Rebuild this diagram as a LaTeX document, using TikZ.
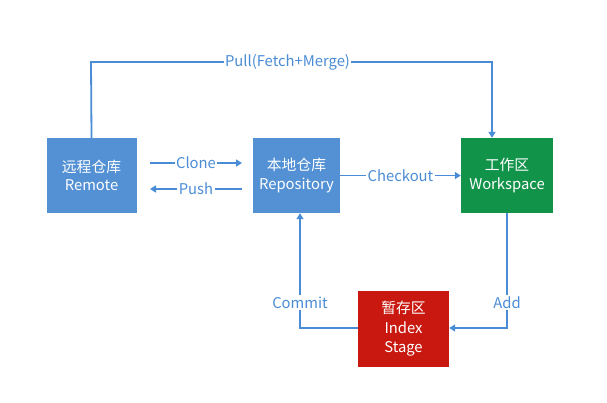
\documentclass[tikz,border=0pt]{standalone}
\usepackage{fontspec}
\setmainfont{Noto Sans CJK SC}
\usetikzlibrary{arrows.meta}
\definecolor{boxblue}{HTML}{5391D4}
\definecolor{boxgreen}{HTML}{11934A}
\definecolor{boxred}{HTML}{C8180F}
\definecolor{lineblue}{HTML}{4A8CD6}
\begin{document}
\begin{tikzpicture}[x=1bp,y=-1bp,
  box/.style={rectangle,minimum height=75bp,text=white,inner sep=0pt,align=center,
    font=\fontsize{14.8bp}{18bp}\selectfont},
  conn/.style={draw=lineblue,line width=1.8bp,-{Triangle[length=6bp,width=7bp]}},
  lbl/.style={fill=white,text=lineblue,inner sep=1.5bp,font=\fontsize{14.8bp}{16bp}\selectfont}]
\useasboundingbox (0,0) rectangle (607,402);
\fill[white] (0,0) rectangle (607,402);
\node[box,fill=boxblue,minimum width=90bp] (remote) at (91.5,175.5) {远程仓库\\Remote};
\node[box,fill=boxblue,minimum width=87bp] (repo) at (296.5,175.5) {本地仓库\\Repository};
\node[box,fill=boxgreen,minimum width=92bp] (work) at (507,175.5) {工作区\\Workspace};
\node[box,fill=boxred,minimum width=91bp,minimum height=76bp,font=\fontsize{14.8bp}{19.5bp}\selectfont] (index) at (403.5,329) {暂存区\\Index\\Stage};
\coordinate (pl) at (91,62);
\coordinate (pr) at (492,62);
\draw[conn] (remote.north) -- (pl) -- node[lbl,pos=0.49]{Pull(Fetch+Merge)} (pr) -- (pr |- work.north);
\draw[conn] (150,163) -- node[lbl]{Clone} (242,163);
\draw[conn] (242,189) -- node[lbl]{Push} (150,189);
\draw[conn] (repo.east) -- node[lbl]{Checkout} (work.west);
\coordinate (ac) at (507,328);
\draw[conn] (work.south) -- node[lbl,pos=0.78]{Add} (ac) -- (index.east |- ac);
\coordinate (cc) at (300,328);
\draw[conn] (index.west |- cc) -- (cc) -- node[lbl,pos=0.22]{Commit} (cc |- repo.south);
\end{tikzpicture}
\end{document}
